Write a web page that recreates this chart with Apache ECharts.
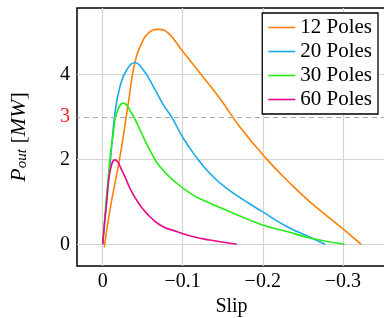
<!DOCTYPE html>
<html>
<head>
<meta charset="utf-8">
<script src="https://cdn.jsdelivr.net/npm/echarts@6/dist/echarts.min.js"></script>
<style>
  html, body { margin: 0; padding: 0; background: #fff; }
  #chart { width: 384px; height: 318px; }
</style>
</head>
<body>
<div id="chart"></div>
<script>
// slip (negative = generator) and output power in MW
var slip12 = [-0.002, -0.0091, -0.0216, -0.032, -0.0404, -0.0487, -0.057, -0.0695, -0.082, -0.0987, -0.121, -0.146, -0.171, -0.203, -0.234, -0.259, -0.299, -0.323];
var pout12 = [-0.07, 0.81, 2.07, 3.33, 4.31, 4.74, 4.98, 5.07, 4.98, 4.58, 4.05, 3.45, 2.78, 2.05, 1.44, 1.0, 0.38, 0];

var slip20 = [0, -0.0112, -0.0154, -0.0216, -0.030, -0.0404, -0.0508, -0.0633, -0.0758, -0.0862, -0.0995, -0.1133, -0.134, -0.155, -0.184, -0.1995, -0.230, -0.259, -0.278];
var pout20 = [0, 2.30, 3.09, 3.72, 4.11, 4.28, 4.11, 3.72, 3.29, 3.0, 2.54, 2.15, 1.67, 1.32, 0.95, 0.77, 0.42, 0.165, 0];

var slip30 = [0, -0.009, -0.0133, -0.0175, -0.0258, -0.0362, -0.0466, -0.059, -0.0716, -0.0925, -0.113, -0.134, -0.159, -0.184, -0.1995, -0.230, -0.259, -0.302];
var pout30 = [0, 2.0, 2.62, 3.09, 3.33, 3.09, 2.70, 2.22, 1.83, 1.44, 1.16, 0.97, 0.77, 0.57, 0.455, 0.30, 0.15, 0];

var slip60 = [0, -0.0024, -0.005, -0.009, -0.0154, -0.0258, -0.0341, -0.0425, -0.055, -0.0716, -0.0925, -0.1133, -0.134, -0.1675];
var pout60 = [0, 0.52, 1.0, 1.7, 1.99, 1.67, 1.32, 1.04, 0.73, 0.455, 0.30, 0.18, 0.10, 0];

var names = ['12 Poles', '20 Poles', '30 Poles', '60 Poles'];
var colors = ['#ff8000', '#1aaae8', '#22ee11', '#ec0a8c'];
var xTicks = [0, -0.1, -0.2, -0.3];
var yTicks = [0, 2, 4];
var yLabels = [0, 2, 3, 4];
var refLevel = 3;

var serif = '"Liberation Serif", "DejaVu Serif", serif';

function pairs(xs, ys) {
    var out = [];
    for (var i = 0; i < xs.length; i++) out.push([xs[i], ys[i]]);
    return out;
}
var allData = [pairs(slip12, pout12), pairs(slip20, pout20), pairs(slip30, pout30), pairs(slip60, pout60)];

var myChart = echarts.init(document.getElementById('chart'));

var series = names.map(function (n, i) {
    var s = {
        name: n,
        type: 'line',
        data: allData[i],
        symbol: 'none',
        smooth: 0.5,
        lineStyle: { color: colors[i], width: 1.6 },
        itemStyle: { color: colors[i] }
    };
    if (i === 0) {
        s.markLine = {
            silent: true,
            symbol: 'none',
            label: { show: false },
            lineStyle: { type: [5, 4], color: '#aaaaaa', width: 1 },
            data: [{ yAxis: refLevel }]
        };
    }
    return s;
});

option = {
    animation: false,
    backgroundColor: '#fff',
    grid: {
        left: 77,
        right: -2,
        top: 8,
        bottom: 52,
        outerBoundsMode: 'none',
        show: true,
        borderColor: '#000',
        borderWidth: 1.5
    },
    legend: {
        orient: 'vertical',
        right: 6,
        top: 13,
        backgroundColor: '#fff',
        borderColor: '#000',
        borderWidth: 1.3,
        padding: [4, 6, 4, 6],
        icon: 'rect',
        itemWidth: 27,
        itemHeight: 1.6,
        itemGap: 3,
        textStyle: { fontFamily: serif, fontSize: 21, color: '#000' },
        data: names
    },
    xAxis: {
        type: 'value',
        inverse: true,
        min: -0.354,
        max: 0.0321,
        name: 'Slip',
        nameLocation: 'middle',
        nameGap: 28,
        nameTextStyle: { fontFamily: serif, fontSize: 20, color: '#000' },
        axisLine: { show: false },
        axisTick: { show: false, customValues: xTicks },
        axisLabel: {
            customValues: xTicks,
            margin: 6,
            fontFamily: serif,
            fontSize: 20,
            color: '#000',
            formatter: function (v) { return v === 0 ? '0' : String(v).replace('-', '\u2212'); }
        },
        splitLine: { show: true, lineStyle: { color: '#d4d4d4', width: 1.2 } }
    },
    yAxis: {
        type: 'value',
        min: -0.512,
        max: 5.573,
        name: '{i|P}{s|out} [{i|MW}]',
        nameLocation: 'middle',
        nameGap: 47,
        nameTextStyle: {
            fontFamily: serif, fontSize: 22, color: '#000',
            rich: {
                i: { fontFamily: serif, fontStyle: 'italic', fontSize: 22, color: '#000' },
                s: { fontFamily: serif, fontStyle: 'italic', fontSize: 15, color: '#000', verticalAlign: 'bottom' }
            }
        },
        axisLine: { show: false },
        axisTick: { show: false, customValues: yTicks },
        axisLabel: {
            customValues: yLabels,
            margin: 7,
            fontFamily: serif,
            fontSize: 20,
            color: function (v) { return Number(v) === refLevel ? '#ff2020' : '#000'; }
        },
        splitLine: { show: true, lineStyle: { color: '#d4d4d4', width: 1.2 } }
    },
    series: series
};
myChart.setOption(option);
</script>
</body>
</html>
